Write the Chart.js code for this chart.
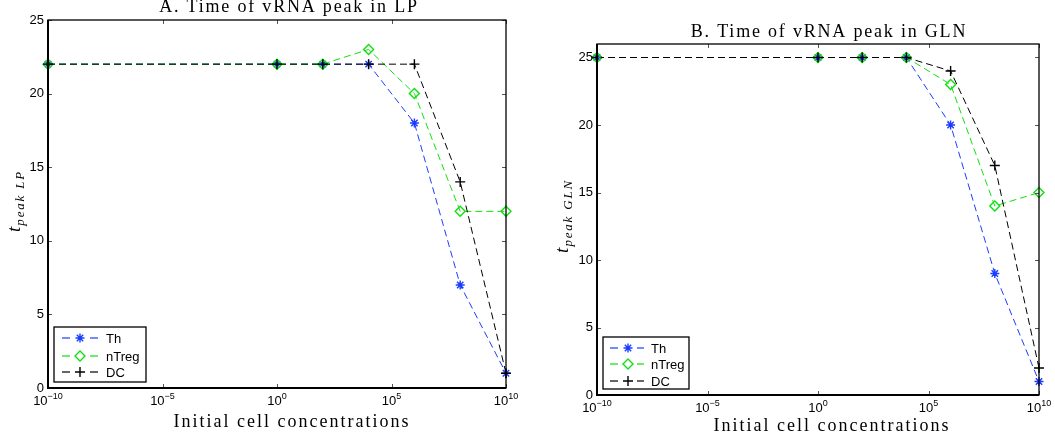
<!DOCTYPE html>
<html>
<head>
<meta charset="utf-8">
<script src="https://cdn.jsdelivr.net/npm/chart.js@4.4.1/dist/chart.umd.min.js"></script>
<style>
  html, body { margin: 0; padding: 0; background: #fff; }
  #wrap { position: relative; width: 1055px; height: 443px; overflow: hidden; }
  canvas { position: absolute; top: 0; }
</style>
</head>
<body>
<div id="wrap">
  <canvas id="chartA" width="527" height="443" style="left:0"></canvas>
  <canvas id="chartB" width="528" height="443" style="left:527px"></canvas>
</div>
<script>
// initial cell concentrations (log x axis)
const concentrations = [1e-10, 1e0, 1e2, 1e4, 1e6, 1e8, 1e10];
const xTickExponents = [-10, -5, 0, 5, 10];
const yTickValues = [0, 5, 10, 15, 20, 25];
const seriesNames = ['Th', 'nTreg', 'DC'];

// A. time of vRNA peak in LP
const lpTh    = [22, 22, 22, 22, 18, 7, 1];
const lpNTreg = [22, 22, 22, 23, 20, 12, 12];
const lpDC    = [22, 22, 22, 22, 22, 14, 1];

// B. time of vRNA peak in GLN
const glnTh    = [25, 25, 25, 25, 20, 9, 1];
const glnNTreg = [25, 25, 25, 25, 23, 14, 15];
const glnDC    = [25, 25, 25, 25, 24, 17, 2];

const BLUE = '#1a3cff', GREEN = '#10e010', BLACK = '#000000';
const SANS = '"Liberation Sans", Arial, sans-serif';
const SERIF = '"Liberation Serif", "DejaVu Serif", serif';

function toPoints(vals) {
  return vals.map((v, i) => ({ x: concentrations[i], y: v }));
}

function makeDatasets(th, ntreg, dc) {
  const common = { borderWidth: 1, borderDash: [7, 4], clip: false, tension: 0, pointBorderWidth: 1.4, pointHoverRadius: 5 };
  return [
    Object.assign({ label: seriesNames[0], data: toPoints(th), borderColor: BLUE, pointStyle: 'star', pointRadius: 4.5, pointBorderColor: BLUE, pointBackgroundColor: BLUE, order: 2 }, common),
    Object.assign({ label: seriesNames[1], data: toPoints(ntreg), borderColor: GREEN, pointStyle: 'rectRot', pointRadius: 5, pointBorderColor: GREEN, pointBackgroundColor: 'rgba(0,0,0,0)', order: 1 }, common),
    Object.assign({ label: seriesNames[2], data: toPoints(dc), borderColor: BLACK, pointStyle: 'cross', pointRadius: 5, pointBorderColor: BLACK, pointBackgroundColor: BLACK, order: 0 }, common)
  ];
}

function seg(ctx, x1, y1, x2, y2) {
  ctx.beginPath(); ctx.moveTo(x1, y1); ctx.lineTo(x2, y2); ctx.stroke();
}

// matlab style frame, ticks, labels and legend
const matlabAxes = {
  id: 'matlabAxes',
  afterDraw(chart, args, o) {
    const ctx = chart.ctx, a = chart.chartArea;
    const xs = chart.scales.x, ys = chart.scales.y;
    ctx.save();

    // inward ticks on all four sides
    ctx.strokeStyle = '#555'; ctx.lineWidth = 1; ctx.setLineDash([]);
    xTickExponents.forEach(e => {
      const px = Math.round(xs.getPixelForValue(Math.pow(10, e))) + 0.5;
      seg(ctx, px, a.bottom, px, a.bottom - 4);
      seg(ctx, px, a.top, px, a.top + 4);
    });
    yTickValues.forEach(v => {
      const py = Math.round(ys.getPixelForValue(v)) + 0.5;
      seg(ctx, a.left, py, a.left + 4, py);
      seg(ctx, a.right, py, a.right - 4, py);
    });

    // box
    ctx.strokeStyle = '#000';
    ctx.lineWidth = 1.3;
    ctx.strokeRect(a.left, a.top, a.right - a.left, a.bottom - a.top);
    ctx.lineWidth = 2;
    seg(ctx, a.left, a.top, a.left, a.bottom + 1);
    seg(ctx, a.left - 1, a.bottom, a.right, a.bottom);

    // y tick labels
    ctx.fillStyle = '#000';
    ctx.font = '13px ' + SANS;
    ctx.textAlign = 'right'; ctx.textBaseline = 'middle';
    yTickValues.forEach(v => ctx.fillText(String(v), a.left - 4, ys.getPixelForValue(v)));

    // x tick labels 10^n
    ctx.textAlign = 'left'; ctx.textBaseline = 'alphabetic';
    xTickExponents.forEach(e => {
      const px = xs.getPixelForValue(Math.pow(10, e));
      const sup = e < 0 ? '\u2212' + Math.abs(e) : String(e);
      ctx.font = '13px ' + SANS;
      const wb = ctx.measureText('10').width;
      ctx.font = '9px ' + SANS;
      const ws = ctx.measureText(sup).width;
      const x0 = px - (wb + ws) / 2;
      ctx.font = '13px ' + SANS;
      ctx.fillText('10', x0, a.bottom + 17);
      ctx.font = '9px ' + SANS;
      ctx.fillText(sup, x0 + wb, a.bottom + 11);
    });

    // title
    ctx.textAlign = 'center';
    ctx.letterSpacing = '1.8px';
    ctx.font = '18px ' + SERIF;
    ctx.fillText(o.title, o.titleX, o.titleY);

    // x axis title
    ctx.letterSpacing = '2px';
    ctx.font = '18px ' + SERIF;
    ctx.fillText('Initial cell concentrations', o.xLabelX, o.xLabelY);

    // y axis title: t with subscript
    ctx.save();
    ctx.translate(o.yLabelX, o.yLabelY);
    ctx.rotate(-Math.PI / 2);
    ctx.textAlign = 'left';
    ctx.letterSpacing = '0px';
    ctx.font = 'italic 19px ' + SERIF;
    const wt = ctx.measureText('t').width;
    ctx.letterSpacing = '1.8px';
    ctx.font = 'italic 13px ' + SERIF;
    const wsub = ctx.measureText(o.yLabelSub).width;
    const start = -(wt + wsub + 1) / 2;
    ctx.letterSpacing = '0px';
    ctx.font = 'italic 19px ' + SERIF;
    ctx.fillText('t', start, 0);
    ctx.letterSpacing = '1.8px';
    ctx.font = 'italic 13px ' + SERIF;
    ctx.fillText(o.yLabelSub, start + wt + 1, 4);
    ctx.restore();
    ctx.letterSpacing = '0px';

    // legend
    const L = o.legend;
    ctx.fillStyle = '#fff';
    ctx.fillRect(L.x, L.y, L.w, L.h);
    ctx.strokeStyle = '#000'; ctx.lineWidth = 1.3;
    ctx.strokeRect(L.x, L.y, L.w, L.h);
    chart.data.datasets.forEach((ds, i) => {
      const ry = L.y + L.rows[i];
      ctx.strokeStyle = ds.borderColor; ctx.lineWidth = 1.2;
      seg(ctx, L.x + L.d1[0], ry, L.x + L.d1[1], ry);
      seg(ctx, L.x + L.d2[0], ry, L.x + L.d2[1], ry);
      ctx.fillStyle = ds.pointBackgroundColor;
      ctx.strokeStyle = ds.pointBorderColor; ctx.lineWidth = ds.pointBorderWidth;
      Chart.helpers.drawPoint(ctx, { pointStyle: ds.pointStyle, radius: ds.pointRadius, rotation: 0, borderWidth: ds.pointBorderWidth }, L.x + L.mk, ry);
      ctx.fillStyle = '#000';
      ctx.font = '13px ' + SANS;
      ctx.textAlign = 'left'; ctx.textBaseline = 'middle';
      ctx.fillText(ds.label, L.x + L.tx, ry + 1);
    });
    ctx.restore();
  }
};

function makeChart(id, datasets, yMax, padding, axesOpts) {
  return new Chart(document.getElementById(id), {
    type: 'line',
    data: { datasets: datasets },
    options: {
      responsive: false,
      animation: false,
      devicePixelRatio: 1,
      layout: { padding: padding },
      plugins: { legend: { display: false }, tooltip: { enabled: false }, matlabAxes: axesOpts },
      scales: {
        x: { type: 'logarithmic', min: 1e-10, max: 1e10, display: false },
        y: { type: 'linear', min: 0, max: yMax, display: false }
      }
    },
    plugins: [matlabAxes]
  });
}

makeChart('chartA', makeDatasets(lpTh, lpNTreg, lpDC), 25,
  { left: 48, right: 21, top: 20, bottom: 55 },
  {
    title: 'A. Time of vRNA peak in LP', titleX: 289, titleY: 12,
    xLabelX: 292, xLabelY: 427,
    yLabelX: 20, yLabelY: 201, yLabelSub: 'peak LP',
    legend: { x: 54, y: 327, w: 92, h: 55, rows: [11, 29, 45], d1: [8, 16], mk: 26, d2: [36, 44], tx: 52 }
  });

makeChart('chartB', makeDatasets(glnTh, glnNTreg, glnDC), 26,
  { left: 70, right: 16, top: 44, bottom: 48 },
  {
    title: 'B. Time of vRNA peak in GLN', titleX: 302, titleY: 37,
    xLabelX: 305, xLabelY: 431,
    yLabelX: 41, yLabelY: 216, yLabelSub: 'peak GLN',
    legend: { x: 76, y: 337, w: 86, h: 52, rows: [11, 27, 44], d1: [7, 15], mk: 25, d2: [34, 41], tx: 48 }
  });
</script>
</body>
</html>
